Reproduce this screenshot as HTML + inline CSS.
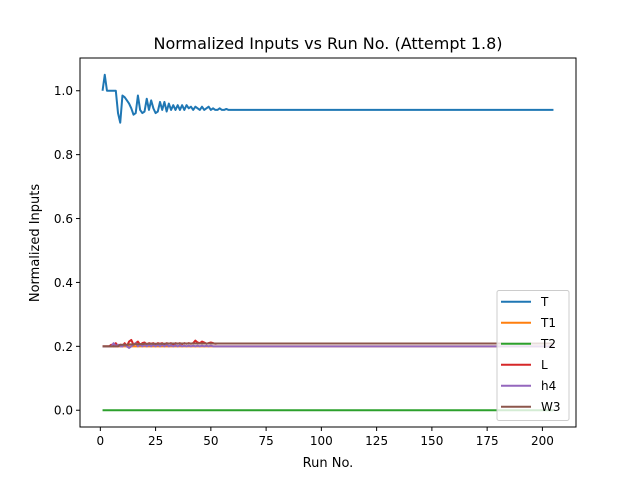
<!DOCTYPE html>
<html><head><meta charset="utf-8"><style>
body{margin:0;background:#fff}
svg{display:block;font-family:"DejaVu Sans","Liberation Sans",sans-serif}
</style></head><body>
<svg id="chart" width="640" height="480" viewBox="0 0 640 480">
<rect width="640" height="480" fill="#fff"/>
<text x="328" y="49" font-size="16" text-anchor="middle">Normalized Inputs vs Run No. (Attempt 1.8)</text>
<g id="plot"></g>
<text x="328" y="467" font-size="13" text-anchor="middle">Run No.</text>
<text transform="translate(39,243) rotate(-90)" font-size="13" text-anchor="middle">Normalized Inputs</text>
</svg>
<script>
const xTicks=[0,25,50,75,100,125,150,175,200];
const yTicks=[0.0,0.2,0.4,0.6,0.8,1.0];
const yTickLabels=["0.0","0.2","0.4","0.6","0.8","1.0"];
const seriesNames=["T","T1","T2","L","h4","W3"];
const seriesColors=["#1f77b4","#ff7f0e","#2ca02c","#d62728","#9467bd","#8c564b"];
const N=205;
const tHead=[1.0,1.05,1.0,1.0,1.0,1.0,1.0,0.93,0.90,0.985,0.98,0.97,0.96,0.945,0.925,0.93,0.985,0.94,0.93,0.935,0.975,0.94,0.97,0.945,0.93,0.935,0.965,0.94,0.965,0.935,0.96,0.94,0.955,0.94,0.955,0.94,0.955,0.94,0.955,0.945,0.95,0.94,0.95,0.945,0.94,0.95,0.94,0.945,0.95,0.94,0.945,0.94,0.94,0.945,0.94,0.94,0.943,0.94];
const lHead=[0.2,0.2,0.2,0.2,0.205,0.2,0.21,0.2,0.205,0.2,0.21,0.2,0.215,0.22,0.205,0.21,0.215,0.205,0.21,0.212,0.205,0.21,0.208,0.21,0.205,0.21,0.208,0.21,0.205,0.21,0.208,0.21,0.205,0.21,0.208,0.21,0.207,0.21,0.208,0.21,0.208,0.21,0.218,0.212,0.21,0.215,0.212,0.208,0.21,0.212,0.21,0.208];
const h4Head=[0.2,0.2,0.2,0.2,0.2,0.21,0.2,0.205,0.2,0.2,0.205,0.2,0.195,0.2,0.205,0.21,0.2,0.205,0.2,0.205,0.2,0.205,0.2,0.205,0.2,0.205,0.2,0.205,0.2,0.205,0.2,0.203,0.2,0.203,0.2,0.203,0.2,0.202,0.2,0.202,0.2,0.202,0.2,0.202,0.2,0.202,0.2,0.202,0.2,0.202,0.2,0.2];
const w3Head=[0.2,0.2,0.2,0.2,0.2,0.2,0.2,0.2,0.205,0.205,0.205,0.205,0.206,0.206,0.206,0.207,0.207,0.207,0.207,0.208,0.208,0.208,0.208,0.208,0.208,0.208,0.208,0.208,0.208,0.209];
const tVals=tHead.concat(Array(N-tHead.length).fill(0.94));
const t1Vals=Array(N).fill(0.2);
const t2Vals=Array(N).fill(0.0);
const lVals=lHead.concat(Array(N-lHead.length).fill(0.209));
const h4Vals=h4Head.concat(Array(N-h4Head.length).fill(0.2));
const w3Vals=w3Head.concat(Array(N-w3Head.length).fill(0.209));
const seriesValues=[tVals,t1Vals,t2Vals,lVals,h4Vals,w3Vals];

const L=80,R=576,T=58,B=427;
const xMin=-9.2,xMax=215.2,yMin=-0.0525,yMax=1.1025;
const sx=v=>L+(v-xMin)/(xMax-xMin)*(R-L);
const sy=v=>B-(v-yMin)/(yMax-yMin)*(B-T);
const NS="http://www.w3.org/2000/svg";
const g=document.getElementById('plot');
function mk(tag,attrs,parent){const e=document.createElementNS(NS,tag);for(const k in attrs)e.setAttribute(k,attrs[k]);(parent||g).appendChild(e);return e;}

seriesValues.forEach((vals,si)=>{
  const d=vals.map((v,i)=>(i?'L':'M')+sx(i+1).toFixed(2)+','+sy(v).toFixed(2)).join('');
  const p=mk('path',{d:d,fill:'none',stroke:seriesColors[si],'stroke-width':2,'stroke-linejoin':'round'});
  
  
});
const frame=mk('rect',{x:L,y:T,width:R-L,height:B-T,fill:'none',stroke:'#000','stroke-width':1});


xTicks.forEach(v=>{
  const x=sx(v);
  const tk=mk('line',{x1:x,x2:x,y1:B,y2:B+4,stroke:'#000'});
  
  
  const t=mk('text',{x:x,y:B+18,'font-size':12,'text-anchor':'middle'});
  t.textContent=v;
  
  
});
yTicks.forEach((v,i)=>{
  const y=sy(v);
  const tk=mk('line',{x1:L-4,x2:L,y1:y,y2:y,stroke:'#000'});
  
  
  const t=mk('text',{x:L-7,y:y+4.5,'font-size':12,'text-anchor':'end'});
  t.textContent=yTickLabels[i];
  
  
});
const lg=mk('g',{});


mk('rect',{x:497,y:290.5,width:72,height:130,rx:2,fill:'#fff','fill-opacity':0.8,stroke:'#ccc'},lg);
seriesNames.forEach((n,i)=>{
  const y=301.7+i*21;
  const e=mk('g',{},lg);
  
  
  mk('line',{x1:501,x2:531,y1:y,y2:y,stroke:seriesColors[i],'stroke-width':2},e);
  const t=mk('text',{x:541,y:y+4.5,'font-size':12},e);
  t.textContent=n;
});
</script>
</body></html>
